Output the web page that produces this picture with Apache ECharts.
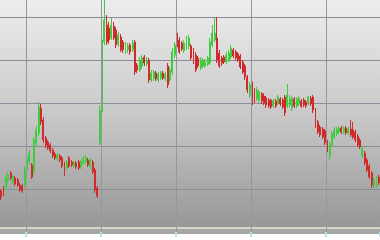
<!DOCTYPE html>
<html>
<head>
<meta charset="utf-8">
<script src="https://cdn.jsdelivr.net/npm/echarts@6/dist/echarts.min.js"></script>
<style>html,body{margin:0;padding:0;background:#fff}#c{width:380px;height:240px}</style>
</head>
<body>
<div id="c"></div>
<script>
const opens = [41,44,44,52,59,50,54,52,47,46, 47,62,70,67,60,89,99,124,112,94, 90,87,82,78,73,76,74,68,64,74, 70,66,69,70,65,69,70,72,65,70, 62,44,89,120,190,207,204,194,206,202, 188,195,190,180,182,187,182,190,167,162, 166,175,168,172,152,154,159,152,154,159, 153,166,152,160,177,199,192,189,181,184, 186,186,182,177,174,164,166,166,168,169, 187,192,194,179,174,175,170,172,175,182, 180,178,176,170,166,155,137,150,142,133, 132,138,136,134,132,132,126,131,129,133, 132,135,126,127,124,133,126,128,131,132, 130,129,134,135,122,110,105,103,101,92, 76,87,95,98,100,104,100,104,99,103, 102,100,96,92,76,79,72,66,59,46, 47,55];
const closes = [35,39,54,57,54,55,48,47,42,41, 62,74,79,55,92,102,125,110,92,87, 84,81,76,74,77,72,66,58,70,66, 67,69,65,64,70,74,75,67,72,60, 42,36,122,192,212,190,192,207,194,187, 197,182,182,187,186,180,189,160,162,172, 174,169,172,152,159,160,153,158,159,154, 158,147,162,180,187,185,180,183,189,192, 194,174,170,162,166,172,172,170,174,190, 199,199,172,166,169,170,177,179,184,176, 174,172,165,160,155,142,147,127,132,142, 140,131,129,127,126,125,131,126,135,128, 125,119,137,133,134,126,133,134,126,127, 126,135,128,122,106,100,97,95,89,80, 87,98,102,103,104,100,104,99,103,97, 95,92,87,85,84,69,62,55,47,52, 54,49];
const lows = [32,36,42,49,52,48,46,45,40,39, 44,60,67,53,57,86,96,107,89,84, 82,79,74,72,71,70,64,56,62,64, 65,64,63,62,63,67,68,65,63,58, 39,34,87,117,187,187,188,192,192,184, 185,180,179,178,179,177,180,157,159,160, 163,166,166,149,150,151,151,150,152,152, 151,144,150,157,174,183,178,181,179,182, 183,172,168,160,164,162,164,164,166,167, 185,190,169,164,166,168,168,170,173,174, 172,170,163,158,152,139,134,124,129,131, 129,128,127,124,124,123,124,124,127,126, 123,116,124,125,121,124,124,126,124,125, 124,127,126,119,104,98,95,93,87,77, 72,85,93,96,98,98,98,97,97,95, 93,90,85,83,74,67,60,53,44,44, 45,47];
const highs = [43,46,57,60,61,57,56,54,49,48, 66,77,82,69,95,106,130,128,115,96, 92,89,84,80,79,78,76,70,72,76, 72,71,71,72,72,76,77,74,74,72, 64,46,127,202,232,217,210,214,210,205, 200,198,192,190,189,189,192,192,169,175, 177,177,175,174,162,162,161,160,161,161, 160,169,165,184,190,204,195,191,192,196, 197,188,184,180,176,175,174,173,176,194, 207,215,215,182,176,177,180,182,187,184, 182,180,178,172,168,157,150,154,144,145, 142,140,139,136,134,133,133,133,137,135, 134,137,148,137,136,135,135,136,133,134, 132,136,136,137,124,112,107,105,103,94, 90,101,105,105,106,106,106,106,105,112, 110,102,98,94,86,81,74,68,61,55, 56,57];
const categories = opens.map((_, i) => String(i + 1));

const candles = opens.map((o, i) => [o, closes[i], lows[i], highs[i]]);

const chart = echarts.init(document.getElementById('c'), null, {renderer: 'canvas'});
chart.setOption({
  animation: false,
  backgroundColor: '#ffffff',
  grid: {
    left: 0, right: 0, top: 0, bottom: 8,
    show: true, borderWidth: 0,
    backgroundColor: {
      type: 'linear', x: 0, y: 0, x2: 0, y2: 1,
      colorStops: [
        {offset: 0, color: '#ededed'},
        {offset: 0.5, color: '#c8c8c8'},
        {offset: 1, color: '#959595'}
      ]
    }
  },
  xAxis: {
    type: 'category',
    data: categories,
    boundaryGap: true,
    z: 20,
    axisLine: {show: false},
    axisLabel: {show: false},
    axisTick: {
      show: true, length: 5, inside: false,
      interval: (i) => i % 32 === 11,
      lineStyle: {color: '#b4e2e8', width: 2}
    },
    splitLine: {
      show: true,
      interval: (i) => i % 32 === 11,
      lineStyle: {color: '#979797', width: 1}
    }
  },
  yAxis: {
    type: 'value',
    min: 0, max: 232, interval: 43,
    axisLine: {show: false},
    axisTick: {show: false},
    axisLabel: {show: false},
    splitLine: {
      show: true, showMinLine: false, showMaxLine: false,
      lineStyle: {color: '#8c8c9a', width: 1}
    }
  },
  graphic: [
    {type: 'rect', z: 10, shape: {x: 0, y: 227, width: 380, height: 2}, style: {fill: '#d6d6cc'}},
    {type: 'rect', z: 10, shape: {x: 0, y: 229, width: 380, height: 5}, style: {fill: '#a6a6a6'}}
  ],
  series: [{
    type: 'candlestick',
    data: candles,
    barWidth: '62%',
    clip: true,
    itemStyle: {
      color: '#3fcc3f', color0: '#d02a2a',
      borderColor: '#3fcc3f', borderColor0: '#d02a2a',
      borderWidth: 1
    }
  }]
});
</script>
</body>
</html>
